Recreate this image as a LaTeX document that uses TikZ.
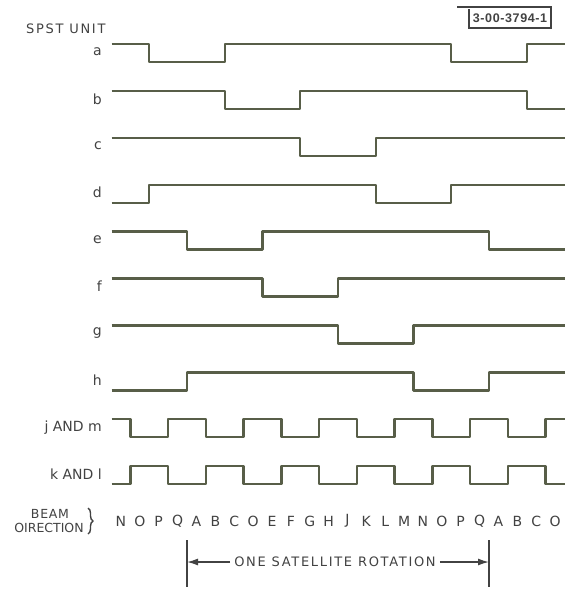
\documentclass[tikz,border=0pt]{standalone}
\usepackage{fontspec}
\setmainfont{DejaVu Sans}
\newfontfamily\tagfont{Liberation Sans}
\usetikzlibrary{arrows.meta,decorations.pathreplacing}
\definecolor{wave}{RGB}{88,94,72}
\definecolor{ink}{RGB}{66,66,66}
\begin{document}
\begin{tikzpicture}[x=1pt,y=-1pt,
  wavestyle/.style={draw=wave,line width=2.4pt,line join=round},
  lbl/.style={text=ink,font=\fontsize{14}{15}\selectfont,inner sep=0pt},
  caps/.style={text=ink,font=\fontsize{13}{15}\selectfont\addfontfeature{LetterSpace=13},inner sep=0pt},
  thin/.style={draw=ink,line width=1.4pt},
  arr/.style={thin,-{Latex[length=11pt,width=7pt]}},
 ]
\fill[white] (0,0) rectangle (571,590);
\useasboundingbox (0,0) rectangle (571,590);

% tag
\node[text=ink,font=\tagfont\fontsize{12.5}{13}\selectfont\bfseries\addfontfeature{LetterSpace=5},inner sep=0pt] (tag) at (510,18) {3-00-3794-1};
\draw[thin] (457,7) -- (551,7) -- (551,28) -- (469,28) -- (469,9);

% title
\node[caps,anchor=west] (title) at (26,29) {SPST UNIT};

% labels
\foreach \t/\yy [count=\i] in {a/44,b/90.9,c/137.8,d/184.7,e/231.6,f/278.5,g/325.4,h/372.3,j AND m/419.2,k AND l/466.1}
  \node[lbl,anchor=east] (lab\i) at (102,\yy+8) {\t};

\begin{scope}[xshift=187pt,x=18.875pt]
\draw[wavestyle] (-4,44) -| (-2,62) -| (2,44) -| (14,62) -| (18,44) -- (20,44);
\draw[wavestyle] (-4,90.9) -| (2,108.9) -| (6,90.9) -| (18,108.9) -- (20,108.9);
\draw[wavestyle] (-4,137.8) -| (6,155.8) -| (10,137.8) -- (20,137.8);
\draw[wavestyle] (-4,202.7) -| (-2,184.7) -| (10,202.7) -| (14,184.7) -- (20,184.7);
\draw[wavestyle] (-4,231.6) -| (0,249.6) -| (4,231.6) -| (16,249.6) -- (20,249.6);
\draw[wavestyle] (-4,278.5) -| (4,296.5) -| (8,278.5) -- (20,278.5);
\draw[wavestyle] (-4,325.4) -| (8,343.4) -| (12,325.4) -- (20,325.4);
\draw[wavestyle] (-4,390.3) -| (0,372.3) -| (12,390.3) -| (16,372.3) -- (20,372.3);
\draw[wavestyle] (-4,419.2) -| (-3,437.2) -| (-1,419.2) -| (1,437.2) -| (3,419.2) -| (5,437.2) -| (7,419.2) -| (9,437.2) -| (11,419.2) -| (13,437.2) -| (15,419.2) -| (17,437.2) -| (19,419.2) -- (20,419.2);
\draw[wavestyle] (-4,484.1) -| (-3,466.1) -| (-1,484.1) -| (1,466.1) -| (3,484.1) -| (5,466.1) -| (7,484.1) -| (9,466.1) -| (11,484.1) -| (13,466.1) -| (15,484.1) -| (17,466.1) -| (19,484.1) -- (20,484.1);

\foreach \t [count=\i] in {N,O,P,Q,A,B,C,O,E,F,G,H,J,K,L,M,N,O,P,Q,A,B,C,O}
  \node[lbl] (bl\i) at ({\i-4.5},521) {\t};

\coordinate (r0top) at (0,540);
\coordinate (r0bot) at (0,587);
\coordinate (r16top) at (16,540);
\coordinate (r16bot) at (16,587);
\end{scope}

\draw[thin] (r0top) -- (r0bot);
\draw[thin] (r16top) -- (r16bot);
\node[caps,inner xsep=4pt] (rot) at (335,562) {ONE SATELLITE ROTATION};
\draw[arr] (rot.west) -- (r0top |- rot.west);
\draw[arr] (rot.east) -- (r16top |- rot.east);

% beam direction
\node[text=ink,font=\fontsize{12.5}{13}\selectfont\addfontfeature{LetterSpace=6},inner sep=0pt] (beam) at (50,514) {BEAM};
\node[text=ink,font=\fontsize{12.5}{13}\selectfont,inner sep=0pt] (dirn) at (49,528) {OIRECTION};
\draw[thin,decorate,decoration={brace,amplitude=5pt}] (88,508) -- (88,534);
\end{tikzpicture}
\end{document}
